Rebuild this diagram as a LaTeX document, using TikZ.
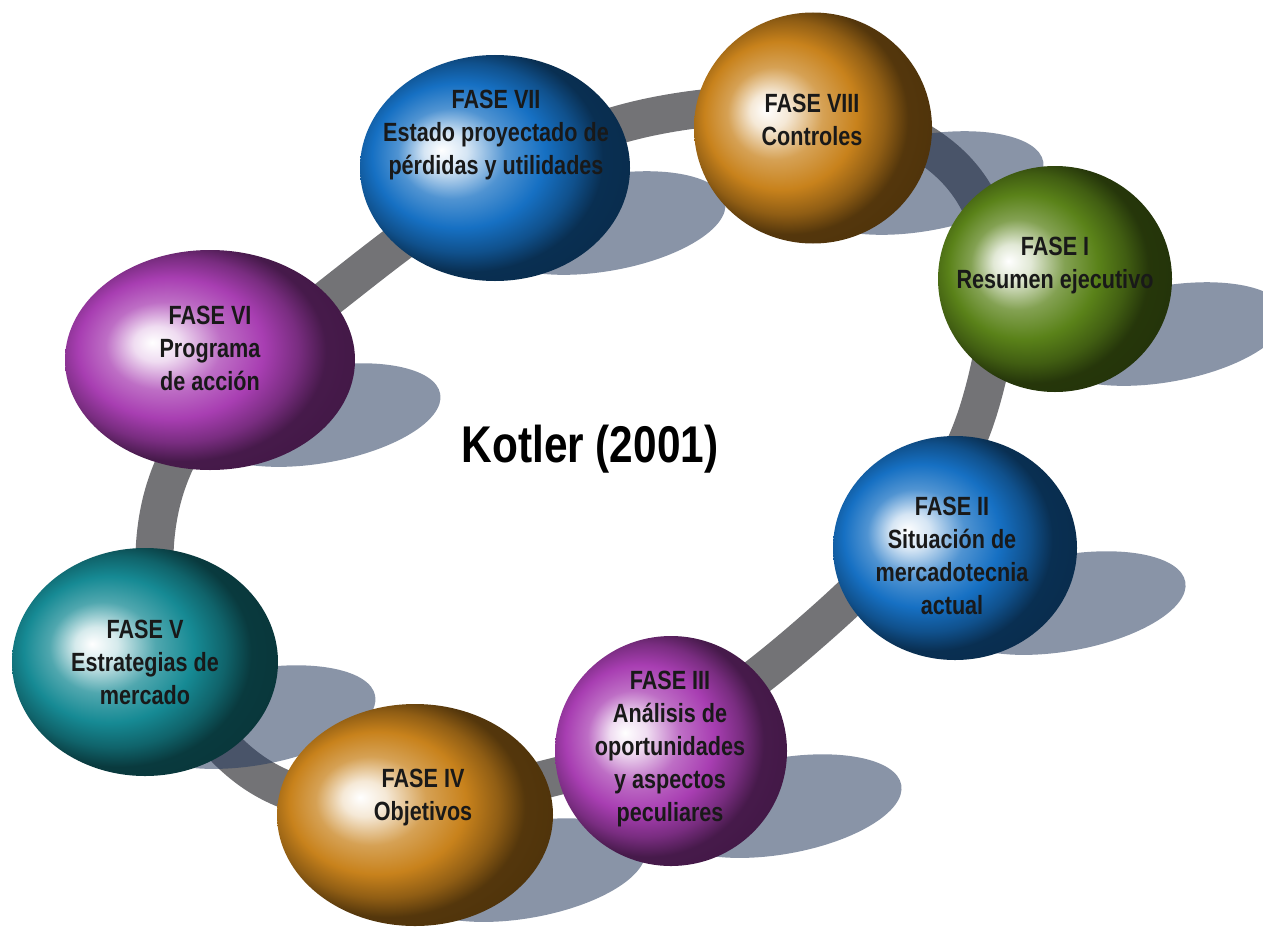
\documentclass[tikz,border=0pt]{standalone}
\usepackage{fontspec}
\setmainfont[FakeStretch=0.82]{Liberation Sans}
\usetikzlibrary{shapes.geometric}

\definecolor{fblue}{RGB}{22,112,195}
\definecolor{fbronze}{RGB}{200,130,28}
\definecolor{fgreen}{RGB}{90,130,25}
\definecolor{fpurple}{RGB}{168,62,178}
\definecolor{fteal}{RGB}{22,138,148}
\definecolor{ringgray}{RGB}{115,115,118}
\definecolor{shadowblue}{RGB}{40,60,95}
\colorlet{sphc}{fblue}

\pgfdeclareradialshading[sphc]{sphere}{\pgfpoint{-10bp}{4bp}}{%
  color(0bp)=(white); color(4bp)=(sphc!18); color(10bp)=(sphc!75);
  color(16bp)=(sphc); color(21bp)=(sphc!72!black);
  color(25bp)=(sphc!42!black); color(50bp)=(sphc!30!black)}

\tikzset{
  sphere color/.code={\colorlet{sphc}{#1}},
  fase/.style n args={3}{ellipse, inner sep=0pt, shading=sphere,
    sphere color=#1, minimum width=#2*0.02cm, minimum height=#3*0.02cm},
  lbl/.style={font=\bfseries\fontsize{15}{18.8}\selectfont, align=center,
    text=black!90, inner sep=0pt},
  shadowfill/.style={fill=shadowblue, fill opacity=0.55, rotate=10},
  ring/.style={draw=ringgray, line width=0.76cm}
}

\begin{document}
\begin{tikzpicture}[x=0.02cm, y=-0.02cm]
\useasboundingbox (0,0) rectangle (1263,926);

\coordinate (c1) at (1055,279); \coordinate (c2) at (955,548);
\coordinate (c3) at (671,751); \coordinate (c4) at (415,815);
\coordinate (c5) at (145,662); \coordinate (c6) at (210,360);
\coordinate (c7) at (495,168); \coordinate (c8) at (813,128);

\draw [ring] plot [smooth cycle, tension=0.7] coordinates {(948,162)
  (980,405) (808,635) (550,778) (253,772) (160,508) (360,273) (660,115)};

\foreach \i in {1,...,8} {
  \coordinate (s\i) at ([shift={(110,55)}]c\i);
  \fill [shadowfill] (s\i) ellipse (122 and 48);
}

\node [fase={fgreen}{234}{226}] (f1) at (c1) {};
\node [fase={fblue}{244}{224}] (f2) at (c2) {};
\node [fase={fpurple}{232}{230}] (f3) at (c3) {};
\node [fase={fbronze}{276}{222}] (f4) at (c4) {};
\node [fase={fteal}{266}{228}] (f5) at (c5) {};
\node [fase={fpurple}{290}{220}] (f6) at (c6) {};
\node [fase={fblue}{270}{226}] (f7) at (c7) {};
\node [fase={fbronze}{238}{231}] (f8) at (c8) {};

\node [lbl] (l1) at (1055,266) {FASE I\\Resumen ejecutivo};
\node [lbl] (l2) at (952,556) {FASE II\\Situación de\\mercadotecnia\\actual};
\node [lbl] (l3) at (670,749) {FASE III\\Análisis de\\oportunidades\\y aspectos\\peculiares};
\node [lbl] (l4) at (423,798) {FASE IV\\Objetivos};
\node [lbl] (l5) at (145,662) {FASE V\\Estrategias de\\mercado};
\node [lbl] (l6) at (210,348) {FASE VI\\Programa\\de acción};
\node [lbl] (l7) at (496,135) {FASE VII\\Estado proyectado de\\pérdidas y utilidades};
\node [lbl] (l8) at (812,120) {FASE VIII\\Controles};

\node [font=\bfseries\fontsize{29.4}{35}\selectfont, anchor=base, inner sep=0pt]
  (title) at (590,462) {Kotler (2001)};
\end{tikzpicture}
\end{document}
